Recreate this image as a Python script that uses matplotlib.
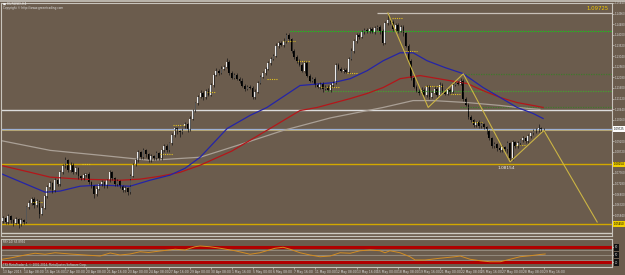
import numpy as np
import matplotlib.pyplot as plt
from matplotlib.transforms import blended_transform_factory

BG = '#6b5c4d'
W, H = 625, 275

# ---- candle data (EURUSD H4, 13 Apr - 29 May 2015) ----
first_open = 1.0560
close = [
    1.0572, 1.0554, 1.0581, 1.0563, 1.0550, 1.0568, 1.0545, 1.0563, 1.0554, 1.0622,
    1.0640, 1.0658, 1.0631, 1.0649, 1.0590, 1.0617, 1.0671, 1.0712, 1.0730, 1.0698,
    1.0743, 1.0725, 1.0779, 1.0806, 1.0833, 1.0788, 1.0815, 1.0779, 1.0797, 1.0761,
    1.0752, 1.0766,
    1.0770, 1.0734, 1.0716, 1.0680, 1.0703, 1.0725, 1.0734, 1.0716,
    1.0743, 1.0779, 1.0752, 1.0725, 1.0739, 1.0716, 1.0698, 1.0707, 1.0689, 1.0761,
    1.0815, 1.0833, 1.0869, 1.0847, 1.0878, 1.0860, 1.0833, 1.0851, 1.0842, 1.0865,
    1.0842, 1.0878, 1.0896, 1.0878, 1.0910, 1.0946, 1.0977, 1.0964,
    1.0959, 1.0986, 1.0995, 1.0973, 1.1022, 1.1058, 1.1090, 1.1121, 1.1139, 1.1117,
    1.1148, 1.1130, 1.1175, 1.1220, 1.1238, 1.1229, 1.1247, 1.1256, 1.1279, 1.1229,
    1.1207, 1.1220, 1.1202, 1.1193, 1.1171, 1.1157, 1.1166, 1.1162, 1.1121, 1.1144,
    1.1184, 1.1211, 1.1229, 1.1247, 1.1274, 1.1292,
    1.1306, 1.1351, 1.1364, 1.1355, 1.1373, 1.1400, 1.1382, 1.1328, 1.1301, 1.1283,
    1.1265, 1.1238, 1.1274, 1.1216, 1.1193, 1.1202, 1.1175, 1.1166, 1.1180, 1.1157,
    1.1166, 1.1153, 1.1175, 1.1184, 1.1265, 1.1247, 1.1238, 1.1243, 1.1234, 1.1292,
    1.1328, 1.1373, 1.1400, 1.1391, 1.1414, 1.1423,
    1.1418, 1.1427, 1.1414, 1.1432, 1.1436, 1.1418, 1.1364, 1.1454, 1.1468, 1.1459,
    1.1427, 1.1445, 1.1418, 1.1436, 1.1409, 1.1351, 1.1283, 1.1207, 1.1166, 1.1148,
    1.1139, 1.1153, 1.1130, 1.1166, 1.1121, 1.1139, 1.1157, 1.1130, 1.1175, 1.1148,
    1.1135, 1.1153, 1.1144, 1.1175, 1.1184, 1.1180,
    1.1193, 1.1112, 1.1085, 1.1031, 1.1013, 1.0991, 1.1004, 1.0986, 1.0995, 1.0982,
    1.0964, 1.0932, 1.0896, 1.0905, 1.0887, 1.0878, 1.0892, 1.0883, 1.0910, 1.0842,
    1.0914, 1.0896, 1.0910, 1.0923, 1.0932, 1.0919, 1.0941, 1.0955, 1.0964, 1.0968,
    1.0977, 1.0970, 1.09725,
]
# wick extensions in pips
wick_up = [
    8, 6, 10, 5, 7, 9, 6, 8, 5, 6, 12, 10, 7, 9, 5, 8, 6, 10, 9, 6,
    8, 7, 11, 9, 13, 7, 10, 6, 8, 5, 7, 9,
    6, 8, 5, 7, 10, 6, 9, 5, 7, 12, 8, 6, 10, 7, 5, 9, 6, 8,
    7, 10, 11, 6, 12, 8, 7, 9, 6, 10, 7, 8, 12, 9, 7, 10, 8, 6,
    8, 7, 9, 6, 10, 8, 7, 9, 12, 6, 8, 10, 7, 9, 11, 6, 13, 10, 18, 7,
    9, 6, 8, 7, 10, 6, 9, 8, 7, 10, 8, 6, 9, 7, 10, 8,
    9, 10, 8, 7, 12, 8, 9, 6, 10, 7, 8, 9, 7, 10, 6, 8, 9, 7, 6, 8,
    7, 9, 8, 6, 10, 7, 8, 9, 6, 10, 12, 8, 10, 7, 9, 8,
    8, 7, 9, 6, 10, 8, 7, 9, 31, 10, 8, 9, 7, 10, 8, 6, 7, 9, 8, 6,
    7, 10, 8, 9, 6, 8, 10, 7, 12, 8, 9, 6, 8, 10, 7, 9,
    10, 8, 7, 9, 6, 8, 7, 9, 10, 8, 7, 6, 8, 9, 7, 10, 8, 6, 9, 8,
    12, 7, 9, 8, 10, 7, 9, 8, 10, 9, 22, 8, 7,
]
wick_dn = [
    10, 8, 9, 14, 12, 7, 20, 9, 8, 6, 9, 7, 12, 8, 16, 6, 5, 8, 7, 11,
    6, 9, 7, 8, 6, 10, 7, 8, 9, 12, 7, 6,
    7, 9, 10, 18, 8, 6, 7, 9, 6, 8, 7, 10, 6, 8, 9, 7, 12, 6,
    5, 8, 7, 9, 6, 10, 8, 7, 9, 6, 8, 7, 6, 9, 8, 7, 6, 10,
    20, 9, 8, 10, 6, 8, 7, 9, 6, 10, 8, 7, 6, 9, 8, 10, 7, 6, 8, 9,
    7, 8, 6, 9, 7, 10, 8, 7, 12, 9, 6, 8, 7, 9, 6, 8,
    7, 8, 9, 6, 8, 10, 7, 9, 8, 12, 7, 8, 9, 6, 8, 7, 10, 8, 9, 14,
    8, 7, 9, 10, 6, 8, 7, 9, 8, 6, 7, 9, 8, 10, 7, 8,
    9, 8, 7, 10, 8, 12, 9, 7, 8, 10, 9, 8, 10, 7, 12, 8, 10, 9, 8, 7,
    9, 8, 7, 10, 9, 8, 7, 10, 8, 9, 7, 8, 9, 6, 8, 7,
    8, 9, 7, 10, 8, 6, 9, 7, 8, 9, 10, 8, 7, 9, 12, 8, 9, 7, 16, 13,
    6, 9, 8, 7, 9, 8, 7, 9, 6, 8, 7, 9, 8,
]

# ---- moving averages (bar index, price) ----
ma_blue_x = [-1.2, 16.2, 21.9, 29.6, 37.3, 48.8, 56.5, 64.2, 70, 75.8, 86.2, 95, 101.5, 114.2,
             126.9, 133.5, 140, 146.2, 152.7, 157.7, 163.1, 170, 176.9, 184.6, 191.2, 197.7, 203.8, 207.7]
ma_blue_y = [1.0775, 1.0689, 1.0694, 1.0716, 1.0721, 1.0716, 1.0743, 1.0766, 1.0797, 1.0847, 1.0977,
             1.1036, 1.1072, 1.1171, 1.1184, 1.1202, 1.1238, 1.1283, 1.1319, 1.1319, 1.1283, 1.1252,
             1.1225, 1.1162, 1.1117, 1.1072, 1.1045, 1.1022]
ma_red_x = [-1.2, 10.4, 18.1, 29.6, 45, 52.7, 60.4, 68.1, 75.8, 88, 102.7, 114.2, 120.8, 133.5,
            140, 146.2, 152.7, 160.4, 171.9, 178.5, 184.6, 191.2, 197.7, 203.8, 207.7]
ma_red_y = [1.0811, 1.0779, 1.0757, 1.0748, 1.0743, 1.0748, 1.0761, 1.0779, 1.0811, 1.0875, 1.0977,
            1.1058, 1.1072, 1.1112, 1.1135, 1.1162, 1.1202, 1.1216, 1.1193, 1.1180, 1.1148, 1.1117,
            1.1094, 1.1081, 1.1072]
ma_gray_x = [-1.2, 18.1, 37.3, 56.5, 75.8, 90, 107.7, 126, 146.2, 157.7, 165.4, 178.5, 191.2, 197.7, 206.5]
ma_gray_y = [1.0923, 1.0878, 1.0856, 1.0833, 1.0847, 1.0900, 1.0968, 1.1025, 1.1072, 1.1103, 1.1103,
             1.1094, 1.1081, 1.1072, 1.1063]

# ---- pattern lines ----
zz_x = [148, 163.5, 177, 195, 208, 228.5]
zz_y = [1.1499, 1.1072, 1.1224, 1.0826, 1.0968, 1.0554]

fr_start = [11.2, 30.4, 60.4, 65.4, 78.5, 101.5, 107.7, 113.1, 121.9, 132.3, 149.6, 154.6, 162.3, 171.9, 180.4, 196.9]
fr_end = [15.4, 33.5, 65.4, 70.0, 81.5, 105.8, 112.3, 118.1, 129.6, 136.2, 153.8, 159.2, 169.2, 175.8, 184.2, 200.8]
fr_price = [1.0644, 1.0815, 1.0860, 1.0991, 1.1144, 1.1202, 1.1373, 1.1283, 1.1166, 1.1229, 1.1477,
            1.1328, 1.1171, 1.1135, 1.1004, 1.0901]

# ---- RSI(14) ----
rsi_x = [-1, 2.7, 8.5, 12.3, 16.2, 20, 25.8, 31.5, 37.3, 41.2, 45, 48.8, 52.7, 56, 60.4, 66.2, 70,
         73.8, 75.8, 79.6, 83.5, 89.2, 95, 98.8, 104.6, 107.7, 110.4, 114.2, 118.1, 121.9, 125.8,
         129.6, 133.5, 137.3, 141.2, 145, 146.9, 148.8, 152.7, 156.5, 158.5, 162.3, 168, 173.8,
         175.8, 179.6, 183.5, 187.3, 191.2, 195, 198.8, 202.7, 206.5, 208.5]
rsi_y = [30, 36, 48, 55, 51, 57, 52, 48, 44, 56, 48, 52, 61, 58, 64, 71, 68, 81, 84, 81, 75, 65,
         51, 57, 75, 79, 71, 57, 48, 41, 44, 57, 55, 65, 68, 65, 57, 65, 57, 41, 28, 28, 35, 41,
         44, 31, 25, 21, 21, 31, 41, 45, 50, 52]

time_labels = ['13 Apr 2015', '14 Apr 08:00', '15 Apr 16:00', '17 Apr 00:00', '20 Apr 08:00',
               '21 Apr 16:00', '23 Apr 00:00', '24 Apr 08:00', '27 Apr 16:00', '29 Apr 00:00',
               '30 Apr 08:00', '1 May 16:00', '5 May 00:00', '6 May 08:00', '7 May 16:00',
               '11 May 00:00', '12 May 08:00', '13 May 16:00', '15 May 00:00', '18 May 08:00',
               '19 May 16:00', '21 May 00:00', '22 May 08:00', '25 May 16:00', '27 May 00:00',
               '28 May 08:00', '29 May 16:00']
time_ticks = list(range(0, 209, 8))
marked = [(1.0975, '1.09725', '#ffffff'), (1.0815, '1.08154', '#f0d000'), (1.0545, '1.05450', '#f0d000')]
price_ticks = [p for p in (1.15440 - 0.0048 * k for k in range(22))
               if min(abs(p - m[0]) for m in marked) > 0.0022]


def frac(x0, y0, x1, y1):
    return [x0 / W, 1 - y1 / H, (x1 - x0) / W, (y1 - y0) / H]


fig = plt.figure(figsize=(W / 100, H / 100), dpi=100, facecolor=BG)
ax = fig.add_axes(frac(1, 3, 612, 236))
rx = fig.add_axes(frac(1, 239, 612, 267))
for a in (ax, rx):
    a.set_facecolor(BG)
    a.set_xlim(-0.8, 234.2)
    for s in a.spines.values():
        s.set_color('#c8c4bc')
        s.set_linewidth(0.8)
ax.set_ylim(1.0491, 1.15395)
rx.set_ylim(0, 112)

# horizontal levels
ax.axhline(1.1062, color='#dcdcdc', lw=1.0)
ax.axhline(1.0968, color='#b8a468', lw=0.8)
ax.axhline(1.0975, color='#9cb0d4', lw=0.9)
ax.axhline(1.0815, color='#d2a800', lw=1.0)
ax.axhline(1.0545, color='#d2a800', lw=1.0)
ax.axhline(1.05045, color='#cfcac2', lw=1.0)
ax.hlines(1.1499, 143.8, 234.2, color='#c8c0b8', lw=0.9)
ax.hlines(1.1418, 110.4, 234.2, color='#18c818', lw=0.9, linestyles=(0, (1, 1)))
ax.hlines(1.1224, 177, 234.2, color='#3f7a2c', lw=0.9, linestyles=(0, (1, 1)))
ax.hlines(1.1146, 123.8, 234.2, color='#46a030', lw=0.9, linestyles=(0, (1, 1)))
ax.hlines(1.1076, 175.8, 234.2, color='#3f7a2c', lw=0.9, linestyles=(0, (1, 1)))
ax.hlines(fr_price, fr_start, fr_end, color='#e0c020', lw=0.8, linestyles=(0, (1, 1)))

# moving averages
ax.plot(ma_gray_x, ma_gray_y, color='#aaa096', lw=0.9)
ax.plot(ma_red_x, ma_red_y, color='#b4161a', lw=0.9)
ax.plot(ma_blue_x, ma_blue_y, color='#2424a8', lw=0.9)

# candles
c = np.array(close)
n = min(len(c), len(wick_up), len(wick_dn))
c = c[:n]
o = np.r_[first_open, c[:-1]]
hi = np.maximum(o, c) + np.array(wick_up[:n]) * 0.0001
lo = np.minimum(o, c) - np.array(wick_dn[:n]) * 0.0001
x = np.arange(n)
ax.vlines(x, lo, hi, color='#151515', lw=0.5)
bull = c >= o
body = np.maximum(np.abs(c - o), 0.00009)
ax.bar(x, body, bottom=np.minimum(o, c), width=0.62,
       color=np.where(bull, '#ececec', '#000000'), linewidth=0)

# zigzag pattern
ax.plot(zz_x, zz_y, color='#cbb444', lw=0.8)
ax.text(193.5, 1.0797, '1.08154', color='#f0f0f0', fontsize=3.1, ha='center', va='center')

# right price scale
ax.yaxis.tick_right()
ax.set_yticks(price_ticks)
ax.set_yticklabels(['%.5f' % p for p in price_ticks])
ax.tick_params(axis='y', colors='#c8c4bc', labelcolor='#d8d8d8', labelsize=1.9, length=1.2, width=0.5, pad=0.6)
ax.set_xticks([])
tr = blended_transform_factory(ax.transAxes, ax.transData)
for val, txt, fc in marked:
    ax.text(1.003, val, txt, transform=tr, fontsize=1.9, color='#000000', va='center', ha='left',
            bbox=dict(boxstyle='square,pad=0.25', fc=fc, ec='none'))
ax.text(0.995, 0.985, '1.09725', transform=ax.transAxes, color='#f0c800', fontsize=3.9, ha='right', va='top')

# RSI panel
rx.axhline(70, color='#a49c90', lw=0.5)
rx.axhline(50, color='#a49c90', lw=0.5)
rx.axhline(30, color='#a49c90', lw=0.5)
rx.axhline(80, color='#b00000', lw=2.2)
rx.axhline(20, color='#b00000', lw=2.2)
rx.plot(rsi_x, rsi_y, color='#d28c22', lw=0.7)
rx.text(0.003, 0.9, 'RSI(14) 65.8992', transform=rx.transAxes, color='#e0e0e0', fontsize=2.0, va='center')
rx.text(0.003, 0.06, 'TFX MetaTrader 4, \u00a9 2001-2014, MetaQuotes Software Corp.',
        transform=rx.transAxes, color='#d8d8d8', fontsize=2.0, va='center')
rx.yaxis.tick_right()
rx.set_yticks([80, 50, 20])
rx.set_yticklabels(['80', '50', '20'])
rx.tick_params(axis='y', colors='#c8c4bc', labelcolor='#c8c8c8', labelsize=1.9, length=1.2, width=0.5, pad=0.8)
for t in rx.get_yticklabels():
    t.set_bbox(dict(boxstyle='square,pad=0.4', fc='#101010', ec='none'))
rx.set_xticks(time_ticks)
rx.set_xticklabels(time_labels, ha='left')
rx.tick_params(axis='x', colors='#c8c4bc', labelcolor='#d8d8d8', labelsize=2.2, length=1.5, width=0.5, pad=1)

fig.text(3 / W, 1 - 4 / H, '\u25a0 EURUSD,H4', color='#f0f0f0', fontsize=2.3, va='center')
fig.text(3 / W, 1 - 8 / H, 'Copyright \u00a9 http://www.greentrading.com', color='#e0e0e0', fontsize=2.1, va='center')
fig.add_artist(plt.Line2D([0, 1], [1 - 0.8 / H, 1 - 0.8 / H], color='#c8c4bc', lw=1.2))

fig.savefig('out.png', dpi=100, facecolor=BG)
